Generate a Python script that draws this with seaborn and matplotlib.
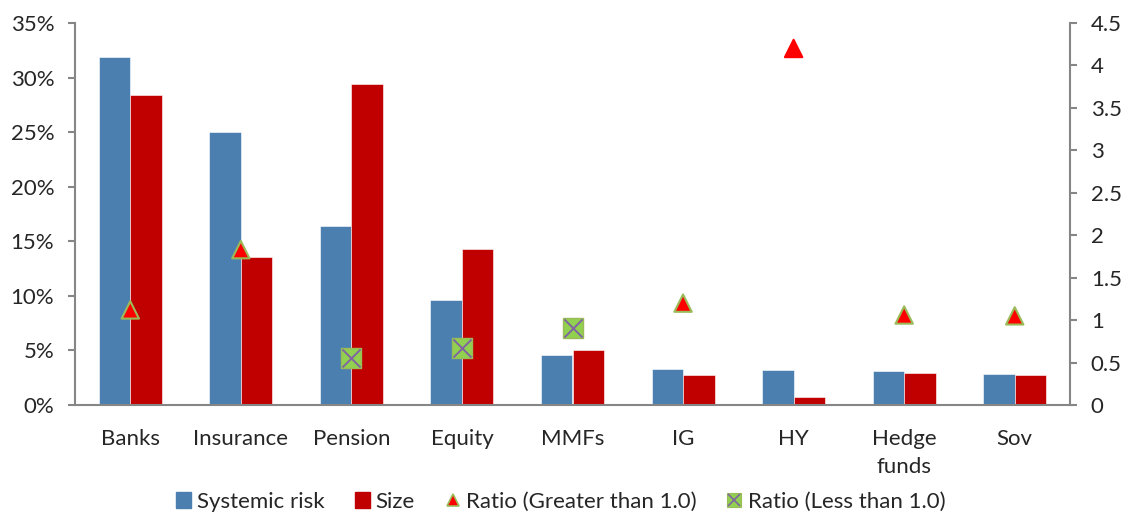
import numpy as np
import pandas as pd
import matplotlib
matplotlib.use("Agg")
import matplotlib.pyplot as plt
import seaborn as sns
from matplotlib.legend_handler import HandlerTuple
from matplotlib.lines import Line2D
from matplotlib.patches import Patch
from matplotlib.ticker import FuncFormatter, MultipleLocator, FixedLocator

# Data: share of systemic risk vs. share of size by sector (%), and their ratio
sectors = ["Banks", "Insurance", "Pension", "Equity", "MMFs", "IG", "HY", "Hedge\nfunds", "Sov"]
systemic_risk = [31.9, 25.0, 16.4, 9.6, 4.55, 3.27, 3.2, 3.14, 2.84]
size = [28.4, 13.6, 29.4, 14.3, 5.0, 2.72, 0.75, 2.9, 2.72]
ratio = [1.12, 1.83, 0.55, 0.67, 0.91, 1.2, 4.2, 1.06, 1.05]

BLUE = "#4A7FB0"
RED = "#C00000"
TRI_RED = "#FF0000"
TRI_EDGE = "#9BBB59"
SQ_GREEN = "#92D050"
X_PURPLE = "#8064A2"
AXIS_GREY = "#868686"

sns.set_theme(style="white")
plt.rcParams["font.family"] = ["Lato", "DejaVu Sans"]
FS = 16

df = pd.DataFrame({
    "sector": sectors * 2,
    "series": ["Systemic risk"] * len(sectors) + ["Size"] * len(sectors),
    "value": systemic_risk + size,
})

W, H = 1128, 514
fig = plt.figure(figsize=(W / 100, H / 100), dpi=100)
ax = fig.add_axes([75 / W, 1 - 405 / H, (1070 - 75) / W, (405 - 23) / H])

sns.barplot(data=df, x="sector", y="value", hue="series",
            palette=[BLUE, RED], saturation=1, width=0.57, gap=0,
            edgecolor="white", linewidth=0.4, legend=False, ax=ax)

ax.set_xlim(-0.5, len(sectors) - 0.5)
ax.set_ylim(0, 35)
ax.yaxis.set_major_locator(MultipleLocator(5))
ax.yaxis.set_major_formatter(FuncFormatter(lambda v, _: f"{v:.0f}%"))
ax.set_xlabel("")
ax.set_ylabel("")

# Category boundaries carry the tick marks, labels sit at the centres
pos = np.arange(len(sectors))
ax.xaxis.set_major_locator(FixedLocator(pos))
ax.set_xticklabels(sectors, fontsize=FS, linespacing=1.5)
ax.xaxis.set_minor_locator(FixedLocator(np.arange(-0.5, len(sectors), 1.0)))
ax.tick_params(axis="x", which="major", length=0, pad=17)
ax.tick_params(axis="x", which="minor", length=5, width=1.5, color=AXIS_GREY, direction="out")
ax.tick_params(axis="y", which="major", length=5, width=1.5, color=AXIS_GREY,
               direction="out", labelsize=FS, pad=10, left=True)

for side in ["top", "right"]:
    ax.spines[side].set_visible(False)
for side in ["left", "bottom"]:
    ax.spines[side].set_color(AXIS_GREY)
    ax.spines[side].set_linewidth(1.5)

# Ratio on the secondary axis
ax2 = ax.twinx()
ax2.set_ylim(0, 4.5)
ax2.yaxis.set_major_locator(MultipleLocator(0.5))
ax2.yaxis.set_major_formatter(FuncFormatter(lambda v, _: f"{v:g}"))
ax2.tick_params(axis="y", length=5, width=1.5, color=AXIS_GREY, direction="out",
                labelsize=FS, pad=10, right=True)
for side in ["top", "left", "bottom"]:
    ax2.spines[side].set_visible(False)
ax2.spines["right"].set_color(AXIS_GREY)
ax2.spines["right"].set_linewidth(1.5)
ax2.grid(False)
ax.grid(False)

ratio_arr = np.array(ratio)
hi = ratio_arr >= 1.0
lo = ~hi
tri_edges = [TRI_RED if r > 3 else TRI_EDGE for r in ratio_arr[hi]]

ax2.scatter(pos[hi], ratio_arr[hi], marker="^", s=12.5 ** 2, c=TRI_RED,
            edgecolors=tri_edges, linewidths=1.5, zorder=5)
ax2.scatter(pos[lo], ratio_arr[lo], marker="s", s=14 ** 2, c=SQ_GREEN,
            edgecolors=TRI_EDGE, linewidths=1.0, zorder=5)
ax2.scatter(pos[lo], ratio_arr[lo], marker="x", s=13 ** 2, c=X_PURPLE,
            linewidths=1.4, zorder=6)

# Legend along the bottom
h_sys = Patch(facecolor=BLUE, edgecolor=BLUE)
h_size = Patch(facecolor=RED, edgecolor=RED)
h_hi = Line2D([], [], linestyle="none", marker="^", markersize=9,
              markerfacecolor=TRI_RED, markeredgecolor=TRI_EDGE, markeredgewidth=1.2)
h_sq = Line2D([], [], linestyle="none", marker="s", markersize=10,
              markerfacecolor=SQ_GREEN, markeredgecolor=TRI_EDGE, markeredgewidth=0.8)
h_x = Line2D([], [], linestyle="none", marker="x", markersize=9,
             markeredgecolor=X_PURPLE, markeredgewidth=1.2)
fig.legend([h_sys, h_size, h_hi, (h_sq, h_x)],
           ["Systemic risk", "Size", "Ratio (Greater than 1.0)", "Ratio (Less than 1.0)"],
           handler_map={tuple: HandlerTuple(ndivide=1)},
           loc="center", bbox_to_anchor=(0.497, 1 - 502 / H), ncol=4, frameon=False,
           fontsize=FS, handlelength=0.7, handleheight=0.7, handletextpad=0.25,
           columnspacing=1.35, borderpad=0)

fig.savefig("out.png", dpi=100, facecolor="white")
